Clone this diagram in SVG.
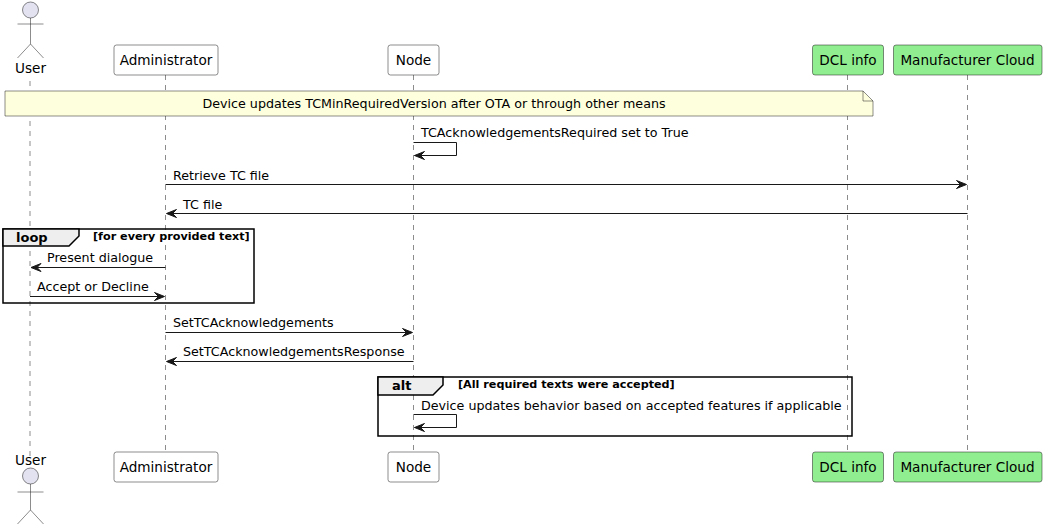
<svg xmlns="http://www.w3.org/2000/svg" width="1043" height="527" viewBox="0 0 1043 527">
<style>
.life{stroke:#181818;stroke-width:0.5;stroke-dasharray:5,5;fill:none}
.box{fill:#FFFFFF;stroke:#181818;stroke-width:0.5}
.green{fill:#90EE90;stroke:#181818;stroke-width:0.5}
.pt{font-family:"DejaVu Sans",sans-serif;font-size:13.6px;fill:#000000}
.mt{font-family:"DejaVu Sans",sans-serif;font-size:12.7px;fill:#000000}
.msg{stroke:#181818;stroke-width:1;fill:none}
.ah{fill:#181818;stroke:#181818;stroke-width:1}
.frame{fill:none;stroke:#000000;stroke-width:1.5}
.tab{fill:#EEEEEE;stroke:#000000;stroke-width:1.5}
.fl{font-family:"DejaVu Sans",sans-serif;font-size:13px;font-weight:bold;fill:#000000}
.fc{font-family:"DejaVu Sans",sans-serif;font-size:11.2px;font-weight:bold;fill:#000000}
.actor{fill:none;stroke:#181818;stroke-width:0.5}
</style>
<rect width="1043" height="527" fill="#FFFFFF"/>
<g id="lifelines">
<line class="life" x1="30" y1="81" x2="30" y2="458"/>
<line class="life" x1="165.5" y1="75" x2="165.5" y2="452"/>
<line class="life" x1="413.5" y1="75" x2="413.5" y2="452"/>
<line class="life" x1="847.5" y1="75" x2="847.5" y2="452"/>
<line class="life" x1="967.5" y1="75" x2="967.5" y2="452"/>
</g>
<g id="User">
<circle cx="30.5" cy="10" r="8" fill="#E2E2F0" stroke="#181818" stroke-width="0.5"/>
<path class="actor" d="M30.5,18 V44 M17.5,24 H43.5 M30.5,44 L17.5,58 M30.5,44 L43.5,58"/>
<text class="pt" x="30.5" y="73" text-anchor="middle">User</text>
<text class="pt" x="30.5" y="465" text-anchor="middle">User</text>
<circle cx="30.5" cy="476" r="8" fill="#E2E2F0" stroke="#181818" stroke-width="0.5"/>
<path class="actor" d="M30.5,484 V510 M17.5,492 H43.5 M30.5,510 L17.5,524 M30.5,510 L43.5,524"/>
</g>
<g id="Administrator">
<rect class="box" x="114" y="45" width="104" height="30" rx="2.5"/>
<text class="pt" x="166" y="65" text-anchor="middle">Administrator</text>
<rect class="box" x="114" y="452" width="104" height="30" rx="2.5"/>
<text class="pt" x="166" y="472" text-anchor="middle">Administrator</text>
</g>
<g id="Node">
<rect class="box" x="388" y="45" width="51" height="30" rx="2.5"/>
<text class="pt" x="413.5" y="65" text-anchor="middle">Node</text>
<rect class="box" x="388" y="452" width="51" height="30" rx="2.5"/>
<text class="pt" x="413.5" y="472" text-anchor="middle">Node</text>
</g>
<g id="DCLinfo">
<rect class="green" x="812.5" y="45" width="71" height="30" rx="2.5"/>
<text class="pt" x="848" y="65" text-anchor="middle">DCL info</text>
<rect class="green" x="812.5" y="452" width="71" height="30" rx="2.5"/>
<text class="pt" x="848" y="472" text-anchor="middle">DCL info</text>
</g>
<g id="ManufacturerCloud">
<rect class="green" x="893.5" y="45" width="148.5" height="30" rx="2.5"/>
<text class="pt" x="967.5" y="65" text-anchor="middle">Manufacturer Cloud</text>
<rect class="green" x="893.5" y="452" width="148.5" height="30" rx="2.5"/>
<text class="pt" x="967.5" y="472" text-anchor="middle">Manufacturer Cloud</text>
</g>
<g id="note">
<path d="M5,91 H863 L873,101 V116 H5 Z" fill="#FEFFDD" stroke="#181818" stroke-width="0.5"/>
<path d="M863,91 V101 H873" fill="none" stroke="#181818" stroke-width="0.5"/>
<text class="mt" x="434" y="108" text-anchor="middle" font-size="12.8px">Device updates TCMinRequiredVersion after OTA or through other means</text>
</g>
<g id="loop">
<rect class="frame" x="3" y="229" width="251" height="74"/>
<path class="tab" d="M3,229 H79 V236 L69,246 H3 Z"/>
<text class="fl" x="16" y="242">loop</text>
<text class="fc" x="93" y="240">[for every provided text]</text>
</g>
<g id="alt">
<rect class="frame" x="378" y="377" width="474" height="59"/>
<path class="tab" d="M378,377 H443 V385 L433,395 H378 Z"/>
<text class="fl" x="392" y="390">alt</text>
<text class="fc" x="458" y="388">[All required texts were accepted]</text>
</g>
<g id="connectors">
<path class="msg" d="M413.5,142.5 H456.5 V155.5 H414.5"/>
<polygon class="ah" points="414.5,155.5 424.5,151.5 420.5,155.5 424.5,159.5"/>
<text class="mt" x="421" y="137">TCAcknowledgementsRequired set to True</text>

<line class="msg" x1="165.5" y1="184.5" x2="965.5" y2="184.5"/>
<polygon class="ah" points="966.5,184.5 956.5,180.5 960.5,184.5 956.5,188.5"/>
<text class="mt" x="173" y="180">Retrieve TC file</text>

<line class="msg" x1="167.5" y1="213.5" x2="967.5" y2="213.5"/>
<polygon class="ah" points="166.5,213.5 176.5,209.5 172.5,213.5 176.5,217.5"/>
<text class="mt" x="183" y="209">TC file</text>

<line class="msg" x1="32" y1="267.5" x2="165.5" y2="267.5"/>
<polygon class="ah" points="31,267.5 41,263.5 37,267.5 41,271.5"/>
<text class="mt" x="47" y="262">Present dialogue</text>

<line class="msg" x1="30" y1="296.5" x2="163.5" y2="296.5"/>
<polygon class="ah" points="164.5,296.5 154.5,292.5 158.5,296.5 154.5,300.5"/>
<text class="mt" x="37" y="291">Accept or Decline</text>

<line class="msg" x1="165.5" y1="332.5" x2="411.5" y2="332.5"/>
<polygon class="ah" points="412.5,332.5 402.5,328.5 406.5,332.5 402.5,336.5"/>
<text class="mt" x="173" y="327">SetTCAcknowledgements</text>

<line class="msg" x1="167.5" y1="361.5" x2="413.5" y2="361.5"/>
<polygon class="ah" points="166.5,361.5 176.5,357.5 172.5,361.5 176.5,365.5"/>
<text class="mt" x="183" y="356">SetTCAcknowledgementsResponse</text>

<path class="msg" d="M413.5,414.5 H456.5 V427.5 H414.5"/>
<polygon class="ah" points="414.5,427.5 424.5,423.5 420.5,427.5 424.5,431.5"/>
<text class="mt" x="421" y="410">Device updates behavior based on accepted features if applicable</text>
</g>
</svg>
